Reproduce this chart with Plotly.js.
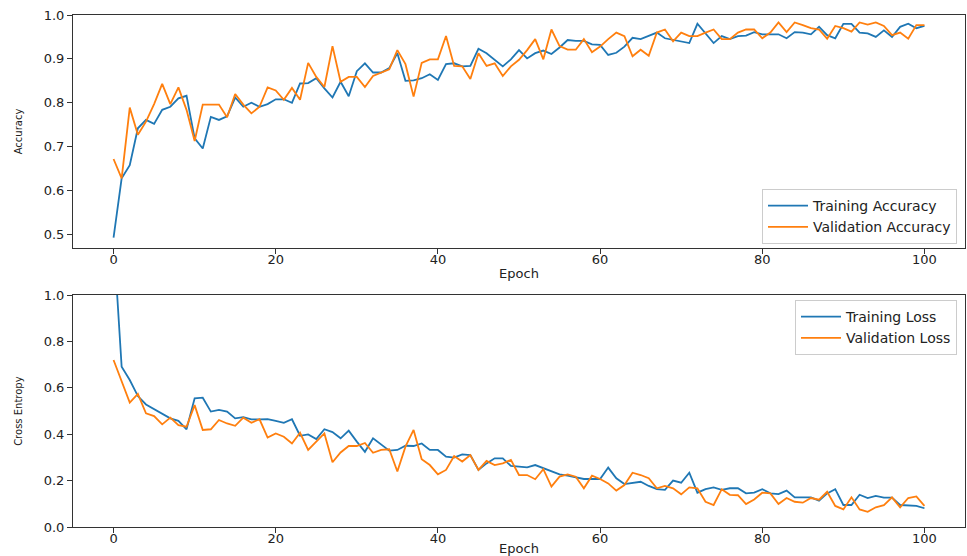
<!DOCTYPE html>
<html>
<head>
<meta charset="utf-8">
<script src="https://cdn.plot.ly/plotly-3.0.1.min.js"></script>
<style>html,body{margin:0;padding:0;background:#fff;}#chart{width:967px;height:556px;}</style>
</head>
<body>
<div id="chart"></div>
<script>
const epochs = Array.from({length: 101}, (_, i) => i);

const trainAcc = [
0.493,0.628,0.658,0.742,0.761,0.752,0.784,0.791,0.810,0.816,
0.719,0.696,0.768,0.761,0.769,0.812,0.791,0.800,0.791,0.797,
0.808,0.808,0.800,0.844,0.845,0.856,0.833,0.812,0.848,0.815,
0.872,0.890,0.869,0.869,0.879,0.913,0.850,0.851,0.856,0.865,
0.852,0.888,0.890,0.883,0.884,0.923,0.913,0.899,0.883,0.899,
0.920,0.901,0.913,0.919,0.911,0.926,0.943,0.941,0.941,0.933,
0.932,0.909,0.914,0.928,0.948,0.945,0.952,0.960,0.947,0.943,
0.940,0.936,0.980,0.958,0.936,0.952,0.945,0.952,0.953,0.961,
0.956,0.956,0.956,0.947,0.961,0.960,0.956,0.973,0.954,0.947,
0.980,0.980,0.960,0.958,0.950,0.965,0.950,0.973,0.980,0.970,
0.975];

const valAcc = [
0.672,0.628,0.789,0.727,0.757,0.797,0.843,0.797,0.835,0.784,
0.713,0.796,0.796,0.796,0.767,0.820,0.796,0.776,0.791,0.835,
0.828,0.807,0.834,0.807,0.891,0.859,0.836,0.929,0.848,0.859,
0.859,0.836,0.861,0.869,0.876,0.920,0.888,0.814,0.891,0.899,
0.899,0.952,0.884,0.883,0.854,0.913,0.884,0.890,0.861,0.883,
0.898,0.920,0.945,0.899,0.967,0.929,0.921,0.921,0.945,0.915,
0.928,0.945,0.960,0.952,0.906,0.921,0.907,0.960,0.967,0.940,
0.960,0.952,0.952,0.960,0.967,0.945,0.945,0.960,0.967,0.967,
0.947,0.960,0.983,0.961,0.983,0.977,0.970,0.967,0.946,0.975,
0.970,0.962,0.983,0.978,0.983,0.975,0.954,0.960,0.946,0.977,
0.977];

const trainLoss = [
1.25,0.691,0.634,0.565,0.529,0.508,0.488,0.469,0.458,0.422,
0.555,0.558,0.498,0.505,0.498,0.469,0.474,0.465,0.465,0.466,
0.458,0.450,0.465,0.394,0.400,0.380,0.422,0.410,0.383,0.416,
0.369,0.325,0.383,0.355,0.330,0.333,0.351,0.350,0.361,0.333,
0.333,0.304,0.300,0.314,0.311,0.247,0.275,0.297,0.297,0.264,
0.261,0.258,0.268,0.254,0.240,0.228,0.222,0.214,0.208,0.208,
0.208,0.257,0.211,0.186,0.192,0.196,0.178,0.164,0.161,0.201,
0.192,0.235,0.149,0.164,0.172,0.161,0.168,0.168,0.146,0.149,
0.164,0.146,0.143,0.158,0.129,0.129,0.129,0.115,0.146,0.164,
0.096,0.096,0.140,0.126,0.135,0.128,0.128,0.096,0.095,0.092,
0.082];

const valLoss = [
0.720,0.627,0.537,0.574,0.491,0.479,0.443,0.472,0.440,0.433,
0.526,0.419,0.422,0.462,0.447,0.437,0.472,0.450,0.465,0.386,
0.404,0.390,0.361,0.407,0.333,0.369,0.404,0.280,0.322,0.350,
0.350,0.363,0.321,0.333,0.336,0.240,0.347,0.419,0.293,0.268,
0.228,0.247,0.307,0.283,0.311,0.247,0.286,0.268,0.275,0.290,
0.225,0.225,0.207,0.250,0.175,0.218,0.228,0.218,0.168,0.222,
0.208,0.189,0.158,0.182,0.235,0.225,0.211,0.168,0.178,0.168,
0.142,0.172,0.168,0.110,0.096,0.164,0.140,0.138,0.100,0.120,
0.149,0.146,0.100,0.126,0.110,0.106,0.126,0.119,0.153,0.092,
0.077,0.129,0.077,0.067,0.086,0.095,0.129,0.086,0.126,0.133,
0.092];

const xTicks = [0, 20, 40, 60, 80, 100];
const accTicks = [0.5, 0.6, 0.7, 0.8, 0.9, 1.0];
const lossTicks = [0.0, 0.2, 0.4, 0.6, 0.8, 1.0];

const BLUE = '#1f77b4', ORANGE = '#ff7f0e';
const FONT = 'DejaVu Sans, sans-serif';
const AX = '#333333';

const traces = [
  {x: epochs, y: trainAcc, name: 'Training Accuracy', type: 'scatter', mode: 'lines',
   line: {color: BLUE, width: 1.8}, xaxis: 'x', yaxis: 'y', legend: 'legend'},
  {x: epochs, y: valAcc, name: 'Validation Accuracy', type: 'scatter', mode: 'lines',
   line: {color: ORANGE, width: 1.8}, xaxis: 'x', yaxis: 'y', legend: 'legend'},
  {x: epochs, y: trainLoss, name: 'Training Loss', type: 'scatter', mode: 'lines',
   line: {color: BLUE, width: 1.8}, xaxis: 'x2', yaxis: 'y2', legend: 'legend2'},
  {x: epochs, y: valLoss, name: 'Validation Loss', type: 'scatter', mode: 'lines',
   line: {color: ORANGE, width: 1.8}, xaxis: 'x2', yaxis: 'y2', legend: 'legend2'}
];

function xAxis(anchor) {
  return {
    anchor: anchor, domain: [73/967, 965/967], range: [-5, 105],
    tickmode: 'array', tickvals: xTicks, ticktext: xTicks.map(String),
    ticks: 'outside', ticklen: 5, tickcolor: AX, showgrid: false, zeroline: false,
    showline: true, linecolor: AX, linewidth: 1, mirror: true,
    ticklabelstandoff: -6,
    tickfont: {family: FONT, size: 13, color: '#222'},
    title: {text: 'Epoch', font: {family: FONT, size: 13, color: '#222'}, standoff: 3}
  };
}
function yAxis(anchor, dom, rng, vals, label) {
  return {
    anchor: anchor, domain: dom, range: rng,
    tickmode: 'array', tickvals: vals, ticktext: vals.map(v => v.toFixed(1)),
    ticks: 'outside', ticklen: 5, tickcolor: AX, showgrid: false, zeroline: false,
    showline: true, linecolor: AX, linewidth: 1, mirror: true,
    tickfont: {family: FONT, size: 13, color: '#222'},
    title: {text: label, font: {family: FONT, size: 10, color: '#222'}, standoff: 19}
  };
}

const legendStyle = {
  bgcolor: 'rgba(255,255,255,0.8)', bordercolor: '#cccccc', borderwidth: 1,
  itemwidth: 40, font: {family: FONT, size: 14, color: '#222'}
};

const layout = {
  width: 967, height: 556,
  margin: {l: 0, r: 0, t: 0, b: 0},
  paper_bgcolor: '#fff', plot_bgcolor: '#fff',
  showlegend: true,
  xaxis: xAxis('y'),
  yaxis: yAxis('x', [1 - 248/556, 1 - 15/556], [0.4692, 1.0], accTicks, 'Accuracy'),
  xaxis2: xAxis('y2'),
  yaxis2: yAxis('x2', [1 - 527.3/556, 1 - 295/556], [0, 1.0], lossTicks, 'Cross Entropy'),
  legend: Object.assign({x: 957/967, xanchor: 'right', y: 1 - 244/556, yanchor: 'bottom'}, legendStyle),
  legend2: Object.assign({x: 957/967, xanchor: 'right', y: 1 - 300/556, yanchor: 'top'}, legendStyle)
};

Plotly.newPlot('chart', traces, layout, {displayModeBar: false, staticPlot: true});
</script>
</body>
</html>
